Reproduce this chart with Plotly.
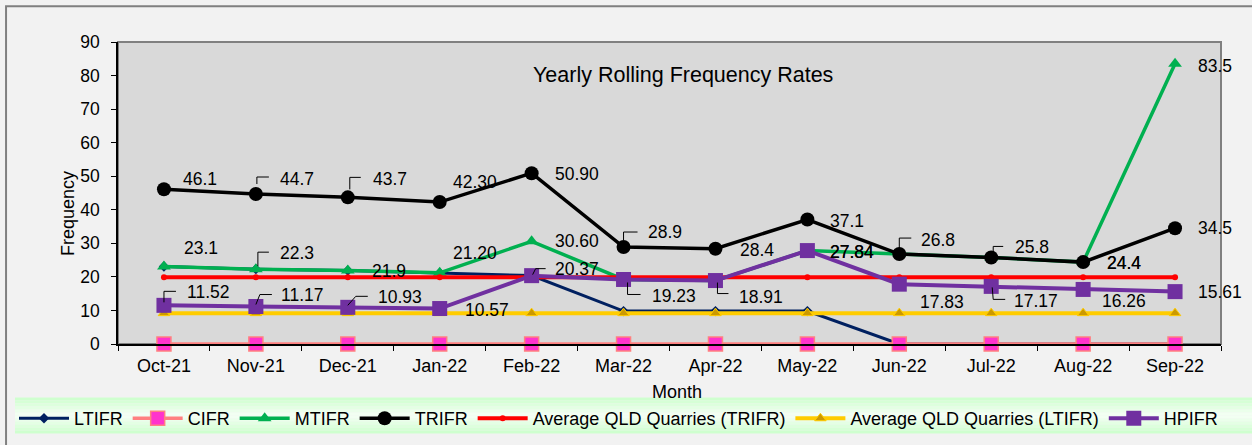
import plotly.graph_objects as go

# ---------------- data ----------------
months = ["Oct-21", "Nov-21", "Dec-21", "Jan-22", "Feb-22", "Mar-22",
          "Apr-22", "May-22", "Jun-22", "Jul-22", "Aug-22", "Sep-22"]
ltifr = [23.1, 22.3, 21.9, 21.2, 20.4, 9.8, 9.8, 9.8, 0, 0, 0, 0]
cifr = [0, 0, 0, 0, 0, 0, 0, 0, 0, 0, 0, 0]
mtifr = [23.1, 22.3, 21.9, 21.20, 30.60, 19.23, 18.91, 27.84, 26.8, 25.8, 24.4, 83.5]
trifr = [46.1, 44.7, 43.7, 42.30, 50.90, 28.9, 28.4, 37.1, 26.8, 25.8, 24.4, 34.5]
avg_qld_trifr = [19.9] * 12
avg_qld_ltifr = [9.2] * 12
hpifr = [11.52, 11.17, 10.93, 10.57, 20.37, 19.23, 18.91, 27.84, 17.83, 17.17, 16.26, 15.61]

# decimals shown in the data labels (None = no label)
trifr_dec = [1, 1, 1, 2, 2, 1, 1, 1, 1, 1, 1, 1]
mtifr_dec = [1, 1, 1, 2, 2, None, None, 2, None, None, 1, 1]
hpifr_dec = [2] * 12

# ---------------- label styling (pixel offsets: dx right, dy down) ----------------
trifr_off = [(36, -10), (41, -15), (42, -18), (35, -20), (45, 1), (41, -15),
             (42, 1), (40, 1), (39, -14.5), (41, -10), (41, 1), (40, 0)]
mtifr_off = [(37, -18), (41, -16), (41, 0), (35, -20), (45, 0), None,
             None, (45, 1), None, None, (41, 1), (40, 2)]
hpifr_off = [(45, -13.5), (47, -12), (52, -10.5), (47, 1), (45, -7), (50, 17),
             (46, 16), (45, 1), (43, 17.5), (45, 15), (41, 12), (45, 0)]

# leader lines (pixel points relative to the data point, y up)
trifr_lead = {1: [(1, 10), (1, 17), (13, 17)], 2: [(2, 8), (2, 20), (13, 20)],
              5: [(0, 7), (0, 15), (14, 15)], 8: [(0, 6), (0, 16), (12, 16)],
              9: [(2, 5), (2, 11), (12, 11)]}
mtifr_lead = {1: [(2, 3), (2, 17), (13, 17)]}
hpifr_lead = {0: [(0, 3), (0, 14), (12, 14)], 1: [(0, 2), (4, 12), (16, 12)],
              2: [(0, 2), (8, 11), (20, 11)], 4: [(1, 1), (4, 7), (14, 7)],
              5: [(4, -3), (4, -15), (17, -15)], 6: [(2, -2), (2, -13), (13, -13)],
              9: [(1, -1), (2, -13), (14, -13)]}

FONT = "Liberation Sans, Arial, sans-serif"

fig = go.Figure()

def add(name, y, color, lw, symbol, msize, mcolor, mline_color, mline_w):
    fig.add_trace(go.Scatter(
        x=months, y=y, name=name, mode="lines+markers", cliponaxis=False,
        line=dict(color=color, width=lw),
        marker=dict(symbol=symbol, size=msize, color=mcolor,
                    line=dict(color=mline_color, width=mline_w)),
    ))

add("LTIFR", ltifr, "#002060", 3, "diamond", 8, "#002060", "#002060", 0)
add("CIFR", cifr, "#ff8080", 3.5, "square", 14, "#ff33cc", "#ff8080", 1.5)
add("MTIFR", mtifr, "#00b050", 3.5, "triangle-up", 12, "#00b050", "#00b050", 0)
add("TRIFR", trifr, "#000000", 3.5, "circle", 14, "#000000", "#000000", 0)
add("Average QLD Quarries (TRIFR)", avg_qld_trifr, "#ff0000", 4, "circle", 6, "#ff0000", "#ff0000", 0)
add("Average QLD Quarries (LTIFR)", avg_qld_ltifr, "#ffcc00", 4, "triangle-up", 10, "#cc9900", "#ffcc00", 1)
add("HPIFR", hpifr, "#7030a0", 4, "square", 15, "#7030a0", "#7030a0", 0)

annotations = []
shapes = []

def labels(vals, decs, offs, leads):
    for i, (v, d, o) in enumerate(zip(vals, decs, offs)):
        if d is None or o is None:
            continue
        annotations.append(dict(
            x=months[i], y=v, xref="x", yref="y", text=f"{v:.{d}f}",
            showarrow=False, xanchor="center", yanchor="middle",
            xshift=o[0], yshift=-o[1],
            font=dict(family=FONT, size=17.5, color="#000000")))
    for i, pts in leads.items():
        path = "M" + " L".join(f"{px},{py}" for px, py in pts)
        shapes.append(dict(type="path", xref="x", yref="y",
                           xsizemode="pixel", ysizemode="pixel",
                           xanchor=months[i], yanchor=vals[i], path=path,
                           line=dict(color="#000000", width=1), layer="above"))

labels(trifr, trifr_dec, trifr_off, trifr_lead)
labels(mtifr, mtifr_dec, mtifr_off, mtifr_lead)
labels(hpifr, hpifr_dec, hpifr_off, hpifr_lead)

# chart title and axis titles
annotations.append(dict(text="Yearly Rolling Frequency Rates", xref="paper", yref="paper",
                        x=0.512, y=0.890, showarrow=False, xanchor="center", yanchor="middle",
                        font=dict(family=FONT, size=21.5, color="#000000")))
annotations.append(dict(text="Frequency", xref="paper", yref="paper", x=0, y=0.432,
                        xshift=-50.5, textangle=-90, showarrow=False,
                        xanchor="center", yanchor="middle",
                        font=dict(family=FONT, size=18, color="#000000")))
annotations.append(dict(text="Month", xref="paper", yref="paper", x=0.507, y=-0.16,
                        showarrow=False, xanchor="center", yanchor="middle",
                        font=dict(family=FONT, size=18, color="#000000")))

# outer chart border
shapes.append(dict(type="rect", xref="paper", yref="paper", x0=-0.1015, x1=1.2,
                   y0=-0.6, y1=1.118, line=dict(color="#808080", width=2),
                   fillcolor="rgba(0,0,0,0)", layer="below"))
# plot-area border
shapes.append(dict(type="rect", xref="paper", yref="paper", x0=0, x1=1, y0=0, y1=1,
                   line=dict(color="#808080", width=2), fillcolor="rgba(0,0,0,0)",
                   layer="below"))
# legend band with a vertical light-green gradient
band_top, band_bot = 398, 434
n = 12
for k in range(n):
    t = (k + 0.5) / n
    w = 1 - abs(t - 0.5) * 2  # 0 at edges, 1 at center
    g0 = (204, 255, 204)
    g1 = (246, 255, 246)
    c = tuple(int(g0[j] + (g1[j] - g0[j]) * w) for j in range(3))
    py0 = band_top + (band_bot - band_top) * k / n
    py1 = band_top + (band_bot - band_top) * (k + 1) / n
    shapes.append(dict(type="rect", xref="paper", yref="paper",
                       x0=(15 - 118) / 1103, x1=1.2,
                       y0=(344.3 - py1) / 302.6, y1=(344.3 - py0) / 302.6,
                       line=dict(width=0), fillcolor=f"rgb{c}", layer="below"))

fig.update_layout(
    width=1252, height=445,
    margin=dict(l=118, r=31, t=42, b=101, autoexpand=False),
    paper_bgcolor="#f2f2f2", plot_bgcolor="#d9d9d9",
    font=dict(family=FONT, color="#000000"),
    showlegend=True,
    legend=dict(orientation="h", x=(14 - 118) / 1103, xanchor="left",
                y=(344.3 - 419) / 302.6, yanchor="middle",
                bgcolor="rgba(0,0,0,0)", font=dict(family=FONT, size=18),
                itemwidth=50, tracegroupgap=0, itemclick=False),
    xaxis=dict(type="category", categoryorder="array", categoryarray=months,
               range=[-0.5, 11.5], showline=True, linecolor="#000000", linewidth=1.5,
               ticks="outside", ticklen=5, tickcolor="#000000", tickwidth=1,
               tickson="boundaries", showgrid=False, zeroline=False,
               ticklabelstandoff=5,
               tickfont=dict(family=FONT, size=18, color="#000000")),
    yaxis=dict(range=[0, 90], dtick=10, showline=True, linecolor="#000000", linewidth=1.5,
               ticks="outside", ticklen=5, tickcolor="#000000", tickwidth=1,
               showgrid=False, zeroline=False, ticklabelstandoff=8,
               tickfont=dict(family=FONT, size=17.5, color="#000000")),
    annotations=annotations, shapes=shapes,
)

fig.write_html("out.html", config={"displayModeBar": False},
               post_script="document.body.style.margin='0';document.body.style.overflow='hidden';")
